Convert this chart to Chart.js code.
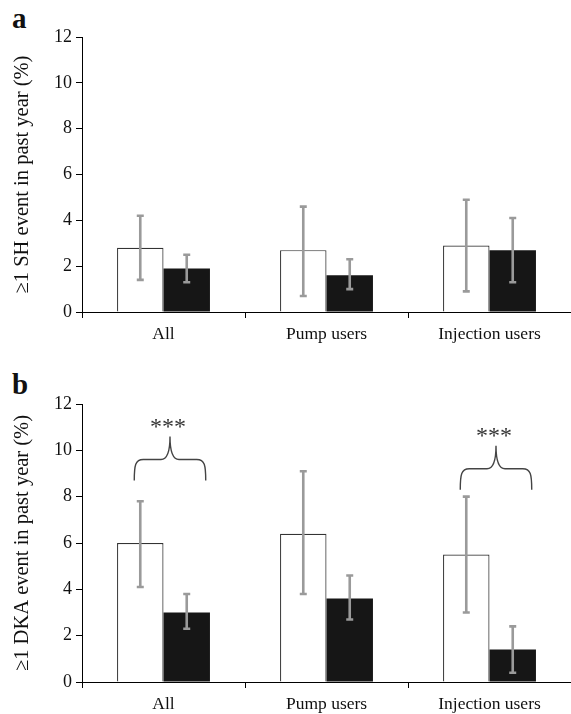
<!DOCTYPE html>
<html>
<head>
<meta charset="utf-8">
<script src="https://cdn.jsdelivr.net/npm/chart.js@4.4.1/dist/chart.umd.min.js"></script>
<style>
  html, body { margin: 0; padding: 0; background: #fff; }
  body { width: 571px; height: 714px; position: relative; overflow: hidden; }
  .panel { position: absolute; left: 0; width: 571px; height: 357px; }
  .lbl { position: absolute; left: 12px; font-family: "Liberation Serif", "DejaVu Serif", serif; font-weight: bold; font-size: 29px; line-height: 1; color: #111; }
</style>
</head>
<body>
<div class="lbl" style="top:4px;">a</div>
<div class="lbl" style="top:370px;">b</div>
<div class="panel" style="top:0px;"><canvas id="ca"></canvas></div>
<div class="panel" style="top:357px;"><canvas id="cb"></canvas></div>
<script>
// ---- data ----
const categories = ['All', 'Pump users', 'Injection users'];
const yTicks = [0, 2, 4, 6, 8, 10, 12];

// Panel a: ≥1 SH event in past year (%)
const shWhite   = [2.8, 2.7, 2.9];
const shWhiteLo = [1.4, 0.7, 0.9];
const shWhiteHi = [4.2, 4.6, 4.9];
const shBlack   = [1.9, 1.6, 2.7];
const shBlackLo = [1.3, 1.0, 1.3];
const shBlackHi = [2.5, 2.3, 4.1];

// Panel b: ≥1 DKA event in past year (%)
const dkaWhite   = [6.0, 6.4, 5.5];
const dkaWhiteLo = [4.1, 3.8, 3.0];
const dkaWhiteHi = [7.8, 9.1, 8.0];
const dkaBlack   = [3.0, 3.6, 1.4];
const dkaBlackLo = [2.3, 2.7, 0.4];
const dkaBlackHi = [3.8, 4.6, 2.4];

// significance brackets (panel b)
const sigCategory = [0, 2];
const sigBase     = [8.7, 8.3];
const sigLabel    = ['***', '***'];

const FONT = '"Liberation Serif", "DejaVu Serif", serif';

const errorBarPlugin = {
  id: 'errorBars',
  afterDatasetsDraw(chart, args, opts) {
    const ctx = chart.ctx;
    const y = chart.scales.y;
    ctx.save();
    ctx.strokeStyle = '#9a9a9a';
    ctx.lineWidth = 2.6;
    chart.data.datasets.forEach((ds, i) => {
      const meta = chart.getDatasetMeta(i);
      meta.data.forEach((bar, j) => {
        const x = bar.x;
        const yl = y.getPixelForValue(ds.errLo[j]);
        const yh = y.getPixelForValue(ds.errHi[j]);
        ctx.beginPath();
        ctx.moveTo(x, yl); ctx.lineTo(x, yh);
        ctx.moveTo(x - 3.5, yl); ctx.lineTo(x + 3.5, yl);
        ctx.moveTo(x - 3.5, yh); ctx.lineTo(x + 3.5, yh);
        ctx.stroke();
      });
    });
    ctx.restore();
  }
};

const bracePlugin = {
  id: 'braces',
  afterDatasetsDraw(chart, args, opts) {
    if (!opts || !opts.items) return;
    const ctx = chart.ctx;
    const y = chart.scales.y;
    ctx.save();
    ctx.strokeStyle = '#444';
    ctx.lineWidth = 1.4;
    opts.items.forEach(it => {
      const m0 = chart.getDatasetMeta(0).data[it.cat];
      const m1 = chart.getDatasetMeta(1).data[it.cat];
      const x1 = m0.x - 6;
      const x2 = m1.x + 19;
      const xm = (x1 + x2) / 2;
      const yb = y.getPixelForValue(it.base);
      const yh = yb - 21;
      const yp = yh - 23;
      const r = 9;
      ctx.beginPath();
      ctx.moveTo(x1, yb);
      ctx.bezierCurveTo(x1, yh + 6, x1 + 1, yh, x1 + r, yh);
      ctx.lineTo(xm - r, yh);
      ctx.quadraticCurveTo(xm, yh, xm, yp);
      ctx.quadraticCurveTo(xm, yh, xm + r, yh);
      ctx.lineTo(x2 - r, yh);
      ctx.bezierCurveTo(x2 - 1, yh, x2, yh + 6, x2, yb);
      ctx.stroke();
      ctx.fillStyle = '#333';
      ctx.font = '24px ' + FONT;
      ctx.textAlign = 'center';
      ctx.textBaseline = 'middle';
      ctx.fillText(it.label, xm - 2, yp - 9);
    });
    ctx.restore();
  }
};

function makeChart(id, title, w, wl, wh, b, bl, bh, topPad, xHeight, braces) {
  return new Chart(document.getElementById(id), {
    type: 'bar',
    data: {
      labels: categories,
      datasets: [
        { data: w, errLo: wl, errHi: wh, backgroundColor: '#ffffff', borderColor: '#333', borderWidth: 1.2, borderSkipped: 'bottom',
          categoryPercentage: 0.57, barPercentage: 1.0 },
        { data: b, errLo: bl, errHi: bh, backgroundColor: '#161616', borderColor: '#161616', borderWidth: 0,
          categoryPercentage: 0.57, barPercentage: 1.0 }
      ]
    },
    options: {
      responsive: false,
      animation: false,
      devicePixelRatio: 1,
      layout: { padding: { top: topPad, right: 0, left: 0, bottom: 0 } },
      plugins: {
        legend: { display: false },
        tooltip: { enabled: false },
        braces: { items: braces }
      },
      scales: {
        x: {
          grid: { display: true, drawOnChartArea: false, drawTicks: true, tickLength: 6, color: '#000', offset: true, lineWidth: 1 },
          border: { display: true, color: '#000', width: 1 },
          ticks: { color: '#111', font: { family: FONT, size: 17.5 }, padding: 6 },
          afterFit(s) { s.height = xHeight; }
        },
        y: {
          min: 0, max: 12,
          afterBuildTicks(s) { s.ticks = yTicks.map(v => ({ value: v })); },
          grid: { display: true, drawOnChartArea: false, drawTicks: true, tickLength: 6, color: '#000', lineWidth: 1 },
          border: { display: true, color: '#000', width: 1 },
          ticks: { color: '#111', font: { family: FONT, size: 18 }, padding: 4 },
          title: { display: true, text: title, color: '#111', font: { family: FONT, size: 20.5 }, padding: { top: 10, bottom: 0 } },
          afterFit(s) { s.width = 82; }
        }
      }
    },
    plugins: [errorBarPlugin, bracePlugin]
  });
}

function sizeCanvas(id) { const c = document.getElementById(id); c.width = 571; c.height = 357; c.style.width = '571px'; c.style.height = '357px'; }
sizeCanvas('ca'); sizeCanvas('cb');

const braceItems = sigCategory.map((c, k) => ({ cat: c, base: sigBase[k], label: sigLabel[k] }));

makeChart('ca', '≥1 SH event in past year (%)', shWhite, shWhiteLo, shWhiteHi, shBlack, shBlackLo, shBlackHi, 37, 45, []);
makeChart('cb', '≥1 DKA event in past year (%)', dkaWhite, dkaWhiteLo, dkaWhiteHi, dkaBlack, dkaBlackLo, dkaBlackHi, 47, 32, braceItems);
</script>
</body>
</html>
